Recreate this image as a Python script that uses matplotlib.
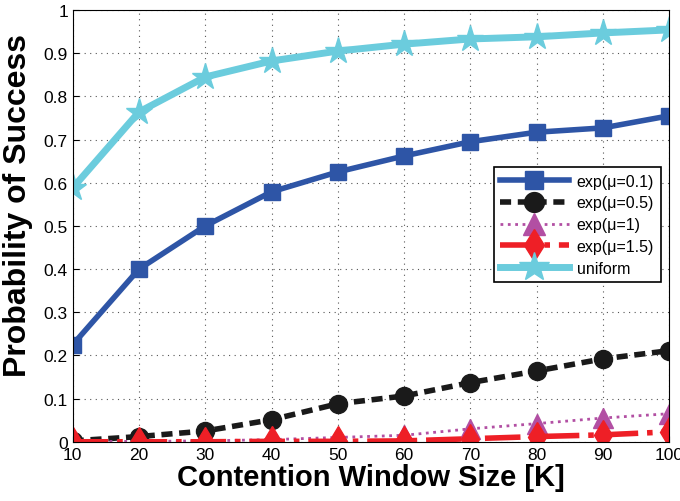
import matplotlib
matplotlib.use('Agg')
import matplotlib.pyplot as plt

plt.rcParams['font.family'] = ['Liberation Sans', 'DejaVu Sans']

window = [10, 20, 30, 40, 50, 60, 70, 80, 90, 100]
exp_01 = [0.225, 0.400, 0.500, 0.579, 0.625, 0.662, 0.695, 0.717, 0.727, 0.755]
exp_05 = [0.002, 0.012, 0.025, 0.051, 0.088, 0.106, 0.137, 0.164, 0.192, 0.211]
exp_1 = [0.0, 0.001, 0.002, 0.005, 0.010, 0.015, 0.030, 0.042, 0.055, 0.065]
exp_15 = [0.0, 0.0, 0.0, 0.001, 0.001, 0.002, 0.007, 0.012, 0.016, 0.023]
uniform = [0.588, 0.764, 0.845, 0.882, 0.905, 0.921, 0.933, 0.938, 0.947, 0.954]

fig = plt.figure(figsize=(6.8, 5.02), dpi=100)
ax = fig.add_axes([0.107, 0.118, 0.877, 0.860])

ax.plot(window, exp_01, '-', color='#2E55A6', lw=4, marker='s', markersize=12, label='exp(\u03bc=0.1)')
ax.plot(window, exp_05, '--', color='#1A1A1A', lw=4, marker='o', markersize=13, dashes=(2, 1.2), label='exp(\u03bc=0.5)')
ax.plot(window, exp_1, ':', color='#B24FA3', lw=2, marker='^', markersize=14, label='exp(\u03bc=1)')
ax.plot(window, exp_15, '-.', color='#EE1F26', lw=4, marker='d', markersize=15, label='exp(\u03bc=1.5)')
ax.plot(window, uniform, '-', color='#6BCCDD', lw=5, marker='*', markersize=20, label='uniform')

ax.set_xlim(10, 100)
ax.set_ylim(0, 1)
ax.set_xticks(window)
ax.set_xticklabels([str(w) for w in window], fontsize=12.5)
yt = [0, 0.1, 0.2, 0.3, 0.4, 0.5, 0.6, 0.7, 0.8, 0.9, 1]
ax.set_yticks(yt)
ax.set_yticklabels(['0', '0.1', '0.2', '0.3', '0.4', '0.5', '0.6', '0.7', '0.8', '0.9', '1'], fontsize=12.5)
ax.tick_params(direction='in', length=4, color='black')
ax.grid(True, linestyle=(0, (1, 4)), color='#555555', lw=0.8)

ax.set_xlabel('Contention Window Size [K]', fontsize=21, fontweight='bold', labelpad=1)
ax.set_ylabel('Probability of Success', fontsize=23, fontweight='bold')
ax.yaxis.set_label_coords(-0.066, 0.55)

leg = ax.legend(loc='center right', bbox_to_anchor=(0.999, 0.503), fontsize=11.5, frameon=True,
                fancybox=False, edgecolor='black', handlelength=4.3, borderpad=0.4, labelspacing=0.42,
                handletextpad=0.5, framealpha=1, markerscale=1.1)
leg.get_frame().set_linewidth(1.2)

plt.savefig('out.png', dpi=100)
